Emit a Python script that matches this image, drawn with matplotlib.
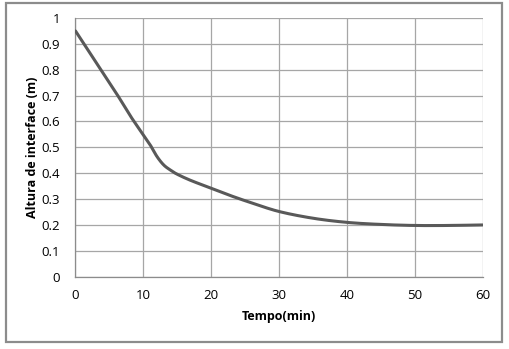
import numpy as np
import matplotlib.pyplot as plt
from matplotlib.patches import Rectangle

# ---------------------- DATA ----------------------
tempo = [0, 2, 4, 6, 8, 10, 11, 12, 13, 14, 15, 17, 20, 23, 26, 30, 35, 40, 45, 50, 55, 60]
altura = [0.95, 0.87, 0.79, 0.71, 0.625, 0.548, 0.51, 0.465, 0.432, 0.412, 0.396, 0.372,
          0.342, 0.312, 0.285, 0.252, 0.226, 0.21, 0.202, 0.198, 0.198, 0.2]

x_ticks = [0, 10, 20, 30, 40, 50, 60]
y_ticks = [0, 0.1, 0.2, 0.3, 0.4, 0.5, 0.6, 0.7, 0.8, 0.9, 1]
y_labels = ["0", "0.1", "0.2", "0.3", "0.4", "0.5", "0.6", "0.7", "0.8", "0.9", "1"]


def smooth_line(x, y, n=20):
    # Catmull-Rom spline through the points, like a "smoothed line" in a spreadsheet
    x = np.asarray(x, float)
    y = np.asarray(y, float)
    px = np.concatenate([[2 * x[0] - x[1]], x, [2 * x[-1] - x[-2]]])
    py = np.concatenate([[2 * y[0] - y[1]], y, [2 * y[-1] - y[-2]]])
    xs, ys = [], []
    s = np.linspace(0, 1, n, endpoint=False)
    for i in range(1, len(px) - 2):
        for arr, out in ((px, xs), (py, ys)):
            p0, p1, p2, p3 = arr[i - 1], arr[i], arr[i + 1], arr[i + 2]
            out.extend(0.5 * (2 * p1 + (-p0 + p2) * s
                              + (2 * p0 - 5 * p1 + 4 * p2 - p3) * s ** 2
                              + (-p0 + 3 * p1 - 3 * p2 + p3) * s ** 3))
    xs.append(x[-1])
    ys.append(y[-1])
    return np.array(xs), np.array(ys)


plt.rcParams['font.family'] = ['Open Sans', 'DejaVu Sans']

fig = plt.figure(figsize=(5.09, 3.49), dpi=100)
ax = fig.add_axes([0.1483, 0.2072, 0.7997, 0.7412])

# outer chart frame
fig.patches.append(Rectangle((6 / 509, 1 - 342 / 349), 496 / 509, 339 / 349,
                             transform=fig.transFigure, fill=False,
                             edgecolor='#8c8c8c', linewidth=1.6))

sx, sy = smooth_line(tempo, altura)
ax.plot(sx, sy, color='#595959', linewidth=2.2, solid_capstyle='round', zorder=3)

ax.set_xlim(0, 60)
ax.set_ylim(0, 1)
ax.set_xticks(x_ticks)
ax.set_yticks(y_ticks)
ax.set_yticklabels(y_labels)
ax.tick_params(length=0, labelsize=9.5, colors='black')
ax.tick_params(axis='x', pad=9)
ax.tick_params(axis='y', pad=11)
ax.grid(color='#a6a6a6', linewidth=0.9)
ax.set_axisbelow(True)
for side in ['top', 'right']:
    ax.spines[side].set_visible(False)
for side in ['left', 'bottom']:
    ax.spines[side].set_color('#8c8c8c')
    ax.spines[side].set_linewidth(0.9)

ax.set_xlabel("Tempo(min)", fontsize=9, fontweight='bold')
ax.set_ylabel("Altura de interface (m)", fontsize=9, fontweight='bold')
ax.xaxis.set_label_coords(0.5, -(317 - 276.7) / 258.7, transform=ax.transAxes)
ax.yaxis.set_label_coords(-(75.5 - 33) / 407, 0.5, transform=ax.transAxes)
ax.xaxis.label.set_va('center')
ax.yaxis.label.set_va('center')

fig.savefig("out.png", dpi=100)
